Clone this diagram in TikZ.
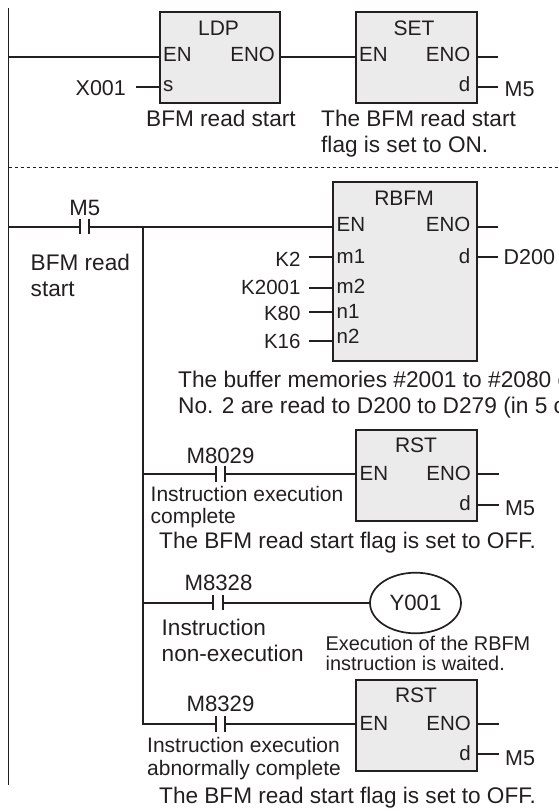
\documentclass[tikz,border=0pt]{standalone}
\usepackage{fontspec}
\setmainfont{Liberation Sans}
\usetikzlibrary{shapes.geometric}
\definecolor{ink}{HTML}{231F20}
\definecolor{boxfill}{HTML}{EBEBEB}
\tikzset{
  wire/.style={line width=1.7pt,draw=ink},
  fbox/.style={draw=ink,fill=boxfill,line width=1.8pt,rectangle,inner sep=0pt,anchor=north west},
  lbl/.style={inner sep=0pt,anchor=base west,text=ink,font=\fontsize{21.5}{21.5}\selectfont},
  pin/.style={lbl,font=\fontsize{20.5}{20.5}\selectfont},
  pinr/.style={pin,anchor=base east},
  title/.style={lbl,anchor=base,font=\fontsize{21}{21}\selectfont},
  lblc/.style={lbl,anchor=base,font=\fontsize{22.2}{22.2}\selectfont},
  capt/.style={lbl,font=\fontsize{22.6}{22.6}\selectfont},
  buf/.style={lbl,font=\fontsize{22.7}{22.7}\selectfont},
  small/.style={lbl,font=\fontsize{21}{21}\selectfont},
  tiny/.style={lbl,font=\fontsize{19.9}{19.9}\selectfont},
  ctc/.style={inner sep=0pt,minimum width=9pt,minimum height=15pt,rectangle},
  coil/.style={draw=ink,line width=1.7pt,ellipse,inner sep=0pt,minimum width=91pt,minimum height=60.6pt},
}
\newcommand{\contact}[3]{\node[ctc] (#1) at (#2,#3) {};
  \draw[wire] (#1.north west) -- (#1.south west) (#1.north east) -- (#1.south east);}
\begin{document}
\begin{tikzpicture}[x=1pt,y=-1pt]
\useasboundingbox (0,0) rectangle (558,811);
% rails
\coordinate (railtop) at (8.5,8);
\coordinate (railbot) at (8.5,785);
\draw[wire] (railtop) -- (railbot);
\coordinate (dashL) at (8.5,167.7);
\coordinate (dashR) at (558,167.7);
\draw[line width=1pt,draw=ink,dash pattern=on 3.5pt off 2.5pt] (dashL) -- (dashR);
% boxes
\node[fbox,minimum width=120pt,minimum height=90.7pt] (ldp) at (159,11) {};
\node[fbox,minimum width=121pt,minimum height=90.7pt] (set) at (355,11) {};
\node[fbox,minimum width=144pt,minimum height=179pt] (rbfm) at (332,181) {};
\node[fbox,minimum width=121pt,minimum height=90.7pt] (rsta) at (355,429.3) {};
\node[fbox,minimum width=121pt,minimum height=91pt] (rstb) at (355,679) {};
\node[coil] (coil) at (415.5,603) {};
% contacts
\contact{cm}{84.5}{226.7}
\contact{ca}{220.5}{474}
\contact{cb}{218}{602.7}
\contact{cc}{220.5}{724}
% free ends
\coordinate (x1) at (136,86.7);
\coordinate (ldpen) at (8.5,56.7);
\coordinate (sene) at (497.5,56.7);
\coordinate (sed) at (497.5,86.7);
\coordinate (re) at (497.5,226.7);
\coordinate (rd) at (497.5,257.3);
\coordinate (k1) at (309,257.3);
\coordinate (k2) at (309,287.7);
\coordinate (k3) at (309,311.7);
\coordinate (k4) at (309,340.7);
\coordinate (ae) at (498.5,474);
\coordinate (ad) at (498.5,505);
\coordinate (be) at (498.5,724);
\coordinate (bd) at (498.5,754.3);
\coordinate (branchT) at (143,226.7);
\coordinate (branchB) at (143,724.8);
% wires
\draw[wire] (ldpen) -- (ldp.west|-ldpen);
\draw[wire] (ldp.east|-ldpen) -- (set.west|-ldpen);
\draw[wire] (set.east|-sene) -- (sene);
\draw[wire] (set.east|-sed) -- (sed);
\draw[wire] (x1) -- (ldp.west|-x1);
\draw[wire] (cm.west) -- (railtop|-cm.west);
\draw[wire] (cm.east) -- (rbfm.west|-cm.east);
\draw[wire] (branchT) -- (branchB);
\draw[wire] (rbfm.east|-re) -- (re);
\draw[wire] (rbfm.east|-rd) -- (rd);
\foreach \k in {k1,k2,k3,k4} \draw[wire] (\k) -- (rbfm.west|-\k);
\draw[wire] (branchT|-ca.west) -- (ca.west);
\draw[wire] (ca.east) -- (rsta.west|-ca.east);
\draw[wire] (rsta.east|-ae) -- (ae);
\draw[wire] (rsta.east|-ad) -- (ad);
\draw[wire] (branchT|-cb.west) -- (cb.west);
\draw[wire] (cb.east) -- (coil.west|-cb.east);
\draw[wire] (branchT|-cc.west) -- (cc.west);
\draw[wire] (cc.east) -- (rstb.west|-cc.east);
\draw[wire] (rstb.east|-be) -- (be);
\draw[wire] (rstb.east|-bd) -- (bd);
% text: LDP
\node[title] (t1) at (218.5,35) {LDP};
\node[pin] (t2) at (163,61.7) {EN};
\node[pinr] (t3) at (275,61.7) {ENO};
\node[pin] (t4) at (163,91.7) {s};
\node[lbl] (t5) at (75.5,95.7) {X001};
\node[capt] (t6) at (146,126.7) {BFM read start};
% SET
\node[title] (t7) at (414,35) {SET};
\node[pin] (t8) at (359,61.7) {EN};
\node[pinr] (t9) at (470.5,61.7) {ENO};
\node[pinr] (t10) at (470.5,91.7) {d};
\node[lbl] (t11) at (504.5,96.7) {M5};
\node[capt] (t12) at (321,126.7) {The BFM read start};
\node[capt] (t13) at (321,152.7) {flag is set to ON.};
% RBFM
\node[title] (t14) at (404,205) {RBFM};
\node[pin] (t15) at (336.5,231.7) {EN};
\node[pinr] (t16) at (470.5,231.7) {ENO};
\node[pin] (t17) at (336.5,263.3) {m1};
\node[pin] (t18) at (336.5,293.3) {m2};
\node[pin] (t19) at (336.5,318.3) {n1};
\node[pin] (t20) at (336.5,343.3) {n2};
\node[pinr] (t21) at (470.5,263.3) {d};
\node[lbl] (t22) at (503.5,264) {D200};
\node[pinr] (t23) at (300.7,266) {K2};
\node[pinr] (t24) at (300.7,294) {K2001};
\node[pinr] (t25) at (300.7,320.7) {K80};
\node[pinr] (t26) at (300.7,348.3) {K16};
\node[lblc] (t27) at (84.7,215) {M5};
\node[capt] (t28) at (30.5,270) {BFM read};
\node[capt] (t29) at (30.5,296.7) {start};
\node[buf] (t30) at (178,387) {The buffer memories \#2001 to \#2080 o};
\node[buf] (t31) at (178,413) {No. 2 are read to D200 to D279 (in 5 c};
% RST a
\node[title] (t32) at (416,452.7) {RST};
\node[pin] (t33) at (359.5,480) {EN};
\node[pinr] (t34) at (471,480) {ENO};
\node[pinr] (t35) at (471,510) {d};
\node[lbl] (t36) at (505,515) {M5};
\node[lblc] (t37) at (220.5,463.3) {M8029};
\node[small] (t38) at (150.5,501.7) {Instruction execution};
\node[small] (t39) at (150.5,523.3) {complete};
\node[capt] (t40) at (159,548.3) {The BFM read start flag is set to OFF.};
% coil
\node[lblc] (t41) at (coil.center) [yshift=-7.5pt] {Y001};
\node[lblc] (t42) at (218.5,590.7) {M8328};
\node[capt] (t43) at (161.5,635) {Instruction};
\node[capt] (t44) at (161.5,661.7) {non-execution};
\node[tiny] (t45) at (325.5,650.7) {Execution of the RBFM};
\node[tiny] (t46) at (325.5,670.7) {instruction is waited.};
% RST b
\node[title] (t47) at (416,702.7) {RST};
\node[pin] (t48) at (359.5,730) {EN};
\node[pinr] (t49) at (471,730) {ENO};
\node[pinr] (t50) at (471,760) {d};
\node[lbl] (t51) at (505,765) {M5};
\node[lblc] (t52) at (220.5,711.7) {M8329};
\node[small] (t53) at (147,752.7) {Instruction execution};
\node[small] (t54) at (147,775.7) {abnormally complete};
\node[capt] (t55) at (159,803.3) {The BFM read start flag is set to OFF.};
\end{tikzpicture}
\end{document}
